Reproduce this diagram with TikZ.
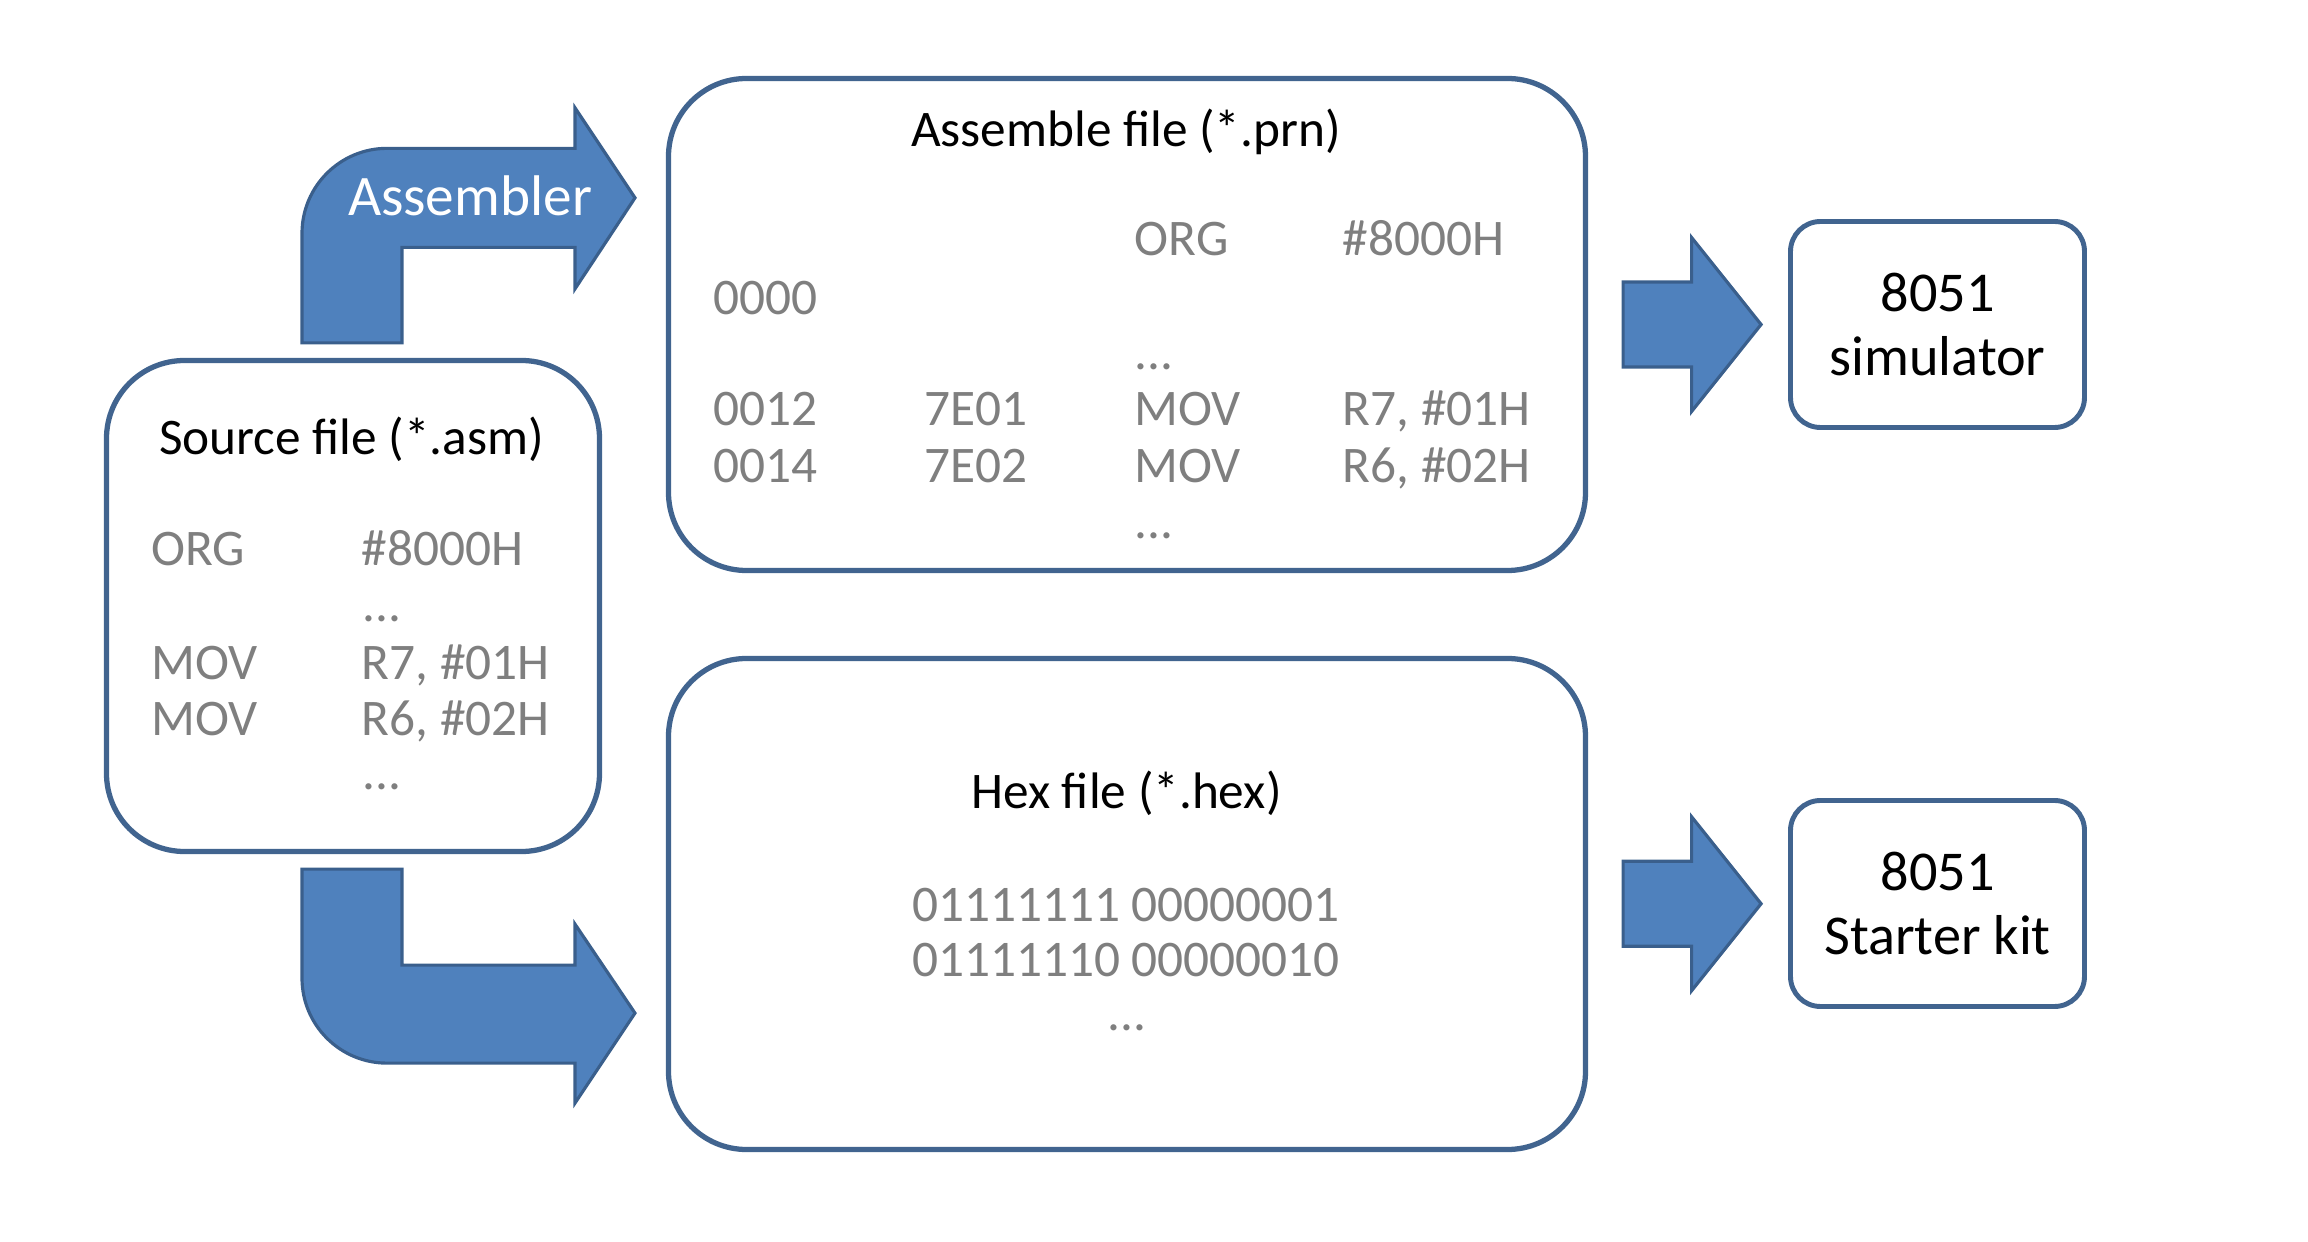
\documentclass[tikz,border=0pt]{standalone}
\usepackage{fontspec}
\setmainfont{Carlito}
\usepackage{xcolor}
\usepackage{tikz}
\usetikzlibrary{calc}
\definecolor{boxEdge}{HTML}{41648F}
\definecolor{arrowFill}{HTML}{4F81BD}
\definecolor{arrowEdge}{HTML}{3A5F8C}
\definecolor{codeGray}{HTML}{7F7F7F}

\begin{document}
\begin{tikzpicture}[
    filebox/.style={draw=boxEdge, line width=1.5pt, fill=white, rounded corners=0.78cm, inner sep=0},
    targetbox/.style={draw=boxEdge, line width=1.4pt, fill=white, rounded corners=0.3cm,
      minimum width=2.94cm, minimum height=2.06cm, align=center,
      font=\fontsize{16}{18.2}\selectfont},
    blockarrow/.style={fill=arrowFill, draw=arrowEdge, line width=0.9pt, line join=miter},
    title/.style={anchor=base, inner sep=0, font=\fontsize{14.6}{17}\selectfont},
    code/.style={anchor=base west, inner sep=0, text=codeGray, font=\fontsize{14.6}{17}\selectfont}
  ]
    \useasboundingbox (0,0) rectangle (23.08,-12.42);

    % file boxes
    \node[filebox, minimum width=4.93cm, minimum height=4.91cm] (src) at (3.53,-6.06) {};
    \node[filebox, minimum width=9.17cm, minimum height=4.92cm] (prn) at (11.27,-3.245) {};
    \node[filebox, minimum width=9.17cm, minimum height=4.91cm] (hex) at (11.27,-9.04) {};

    % targets
    \node[targetbox] (sim) at (19.375,-3.245) {8051\\simulator};
    \node[targetbox] (kit) at (19.375,-9.035) {8051\\Starter kit};

    % source file
    \node[title] (srcTitle) at (3.515,-4.55) {Source file (*.asm)};
    \node[code] (srcOrg) at (1.505,-5.66) {ORG};
    \node[code] (srcOrgArg) at (3.61,-5.66) {\#8000H};
    \node[code] (srcDotsA) at (3.62,-6.22) {...};
    \node[code] (srcMovA) at (1.505,-6.80) {MOV};
    \node[code] (srcMovAArg) at (3.61,-6.80) {R7, \#01H};
    \node[code] (srcMovB) at (1.505,-7.36) {MOV};
    \node[code] (srcMovBArg) at (3.61,-7.36) {R6, \#02H};
    \node[code] (srcDotsB) at (3.62,-7.90) {...};

    % assemble file
    \node[title] (prnTitle) at (11.26,-1.465) {Assemble file (*.prn)};
    \node[code] (prnOrg) at (11.34,-2.56) {ORG};
    \node[code] (prnOrgArg) at (13.42,-2.56) {\#8000H};
    \node[code] (prnAddrA) at (7.13,-3.15) {0000};
    \node[code] (prnDotsA) at (11.34,-3.70) {...};
    \node[code] (prnAddrB) at (7.13,-4.26) {0012};
    \node[code] (prnHexB) at (9.24,-4.26) {7E01};
    \node[code] (prnMovB) at (11.34,-4.26) {MOV};
    \node[code] (prnArgB) at (13.42,-4.26) {R7, \#01H};
    \node[code] (prnAddrC) at (7.13,-4.83) {0014};
    \node[code] (prnHexC) at (9.24,-4.83) {7E02};
    \node[code] (prnMovC) at (11.34,-4.83) {MOV};
    \node[code] (prnArgC) at (13.42,-4.83) {R6, \#02H};
    \node[code] (prnDotsB) at (11.34,-5.39) {...};

    % hex file
    \node[title] (hexTitle) at (11.265,-8.09) {Hex file (*.hex)};
    \node[code, anchor=base] (hexRowA) at (11.26,-9.22) {01111111 00000001};
    \node[code, anchor=base] (hexRowB) at (11.26,-9.77) {01111110 00000010};
    \node[code, anchor=base] (hexDots) at (11.27,-10.31) {...};

    % assembler arrow
    \draw[blockarrow, shift={(src.north)}] (-0.51,0.15) -- (-0.51,1.245)
      arc[start angle=180, end angle=90, radius=0.85] -- (2.22,2.095) -- (2.22,2.50)
      -- (2.82,1.60) -- (2.22,0.69) -- (2.22,1.105) -- (0.49,1.105) -- (0.49,0.15) -- cycle;
    \node[text=white, font=\fontsize{16.3}{18}\selectfont, inner sep=0] (asmLabel)
      at ($(src.north)+(1.17,1.62)$) {Assembler};

    % hex arrow
    \draw[blockarrow, shift={(src.south)}] (-0.51,-0.15) -- (-0.51,-1.24)
      arc[start angle=180, end angle=270, radius=0.85] -- (2.22,-2.09) -- (2.22,-2.49)
      -- (2.82,-1.59) -- (2.22,-0.70) -- (2.22,-1.11) -- (0.49,-1.11) -- (0.49,-0.15) -- cycle;

    % file -> target
    \foreach \from/\to in {prn/sim, hex/kit} {
      \coordinate (mid) at ($(\from.east)!0.5!(\to.west)$);
      \draw[blockarrow, shift={(mid)}] (-0.65,0.425) -- (0.035,0.425) -- (0.035,0.87)
        -- (0.73,0) -- (0.035,-0.87) -- (0.035,-0.425) -- (-0.65,-0.425) -- cycle;
    }

\end{tikzpicture}
\end{document}
